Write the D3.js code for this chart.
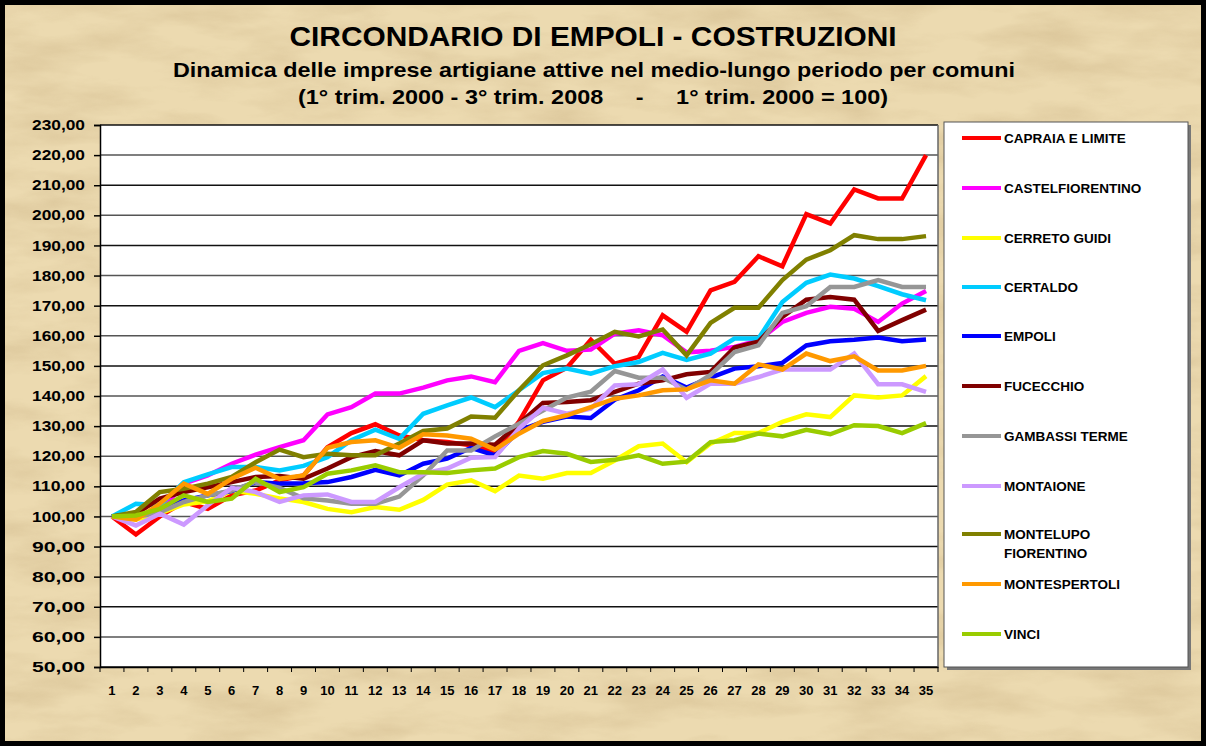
<!DOCTYPE html>
<html>
<head>
<meta charset="utf-8">
<script src="https://cdn.jsdelivr.net/npm/d3@7"></script>
<style>
  body { margin: 0; background: #fff; }
  text { font-family: Arial, "Liberation Sans", sans-serif; font-weight: bold; }
</style>
</head>
<body>
<script>
// quarters 1..35 (1° trim. 2000 - 3° trim. 2008)
var quarters = d3.range(1, 36);
var yTicks = d3.range(50, 231, 10);

var names = ["CAPRAIA E LIMITE", "CASTELFIORENTINO", "CERRETO GUIDI", "CERTALDO", "EMPOLI",
    "FUCECCHIO", "GAMBASSI TERME", "MONTAIONE", "MONTELUPO FIORENTINO", "MONTESPERTOLI", "VINCI"];

var capraia = [100, 94, 100, 104.8, 102.5, 107, 108.6, 112, 113.6, 123, 127.7, 130.6, 126.9, 125.3, 124.7, 123.6, 121.4, 131.5, 145.2, 149.4, 158.7, 150.7, 153, 166.8, 161.3, 175.1, 177.9, 186.4, 183.1, 200.4, 197.3, 208.6, 205.6, 205.6, 220];
var castelfiorentino = [100, 100, 101.4, 110.9, 113.6, 117.5, 120.5, 123, 125.3, 133.9, 136.3, 140.8, 140.8, 142.8, 145.2, 146.5, 144.6, 155, 157.6, 155, 155.4, 160.7, 161.8, 160.2, 154.5, 155, 156.3, 158.5, 164.6, 167.6, 169.6, 169, 164.6, 170.7, 174.9];
var cerreto = [100, 99, 101, 104, 105, 108.5, 107.5, 106, 104.8, 102.5, 101.4, 103.1, 102.2, 105.5, 110.6, 112, 108.4, 113.6, 112.5, 114.4, 114.4, 118.6, 123.3, 124.2, 118, 124.2, 127.7, 127.7, 131.4, 133.9, 133, 140.2, 139.5, 140.2, 146.6];
var certaldo = [100, 104.2, 103.7, 111.4, 114, 116.4, 116.4, 115.3, 116.8, 119.7, 125.3, 128.8, 125.8, 134.1, 136.9, 139.5, 136.3, 141.9, 147.6, 149.1, 147.4, 149.9, 151.3, 154.3, 152, 154.1, 159.1, 159.1, 171.2, 177.6, 180.3, 179, 176.5, 173.8, 171.8];
var empoli = [100, 100.3, 102, 105.3, 107, 108.4, 111.4, 110.9, 111, 111.4, 113.1, 115.5, 113.6, 117.5, 119.2, 122.8, 120.3, 128.6, 131.4, 133.2, 132.7, 138.8, 141.9, 146.5, 142.8, 146.1, 149.1, 149.9, 151, 156.8, 158.2, 158.7, 159.4, 158.2, 158.8];
var fucecchio = [100, 100.9, 105.9, 108.1, 109.7, 111.4, 113.1, 113.4, 112.5, 115.9, 119.7, 121.7, 120.3, 125.3, 124.2, 124.2, 123.8, 130.8, 137.7, 138, 138.6, 141.4, 144.1, 145.2, 147.2, 148, 156.1, 158, 166.3, 172, 172.9, 172, 161.6, 165.2, 168.7];
var gambassi = [100, 99.8, 101.4, 104.8, 107, 108.6, 111.5, 109.5, 106, 105.3, 104.2, 104.2, 106.6, 113.6, 121.9, 121.9, 126.6, 130.8, 135.2, 139.5, 141.4, 148.3, 146.1, 146.1, 142.1, 147, 154.6, 156.8, 167.6, 169.8, 176.2, 176.2, 178.5, 176.2, 176.2];
var montaione = [100, 97, 100.9, 97.3, 103.7, 109.5, 108.1, 104.8, 107, 107.3, 104.8, 104.8, 109.7, 114.2, 115.9, 119.5, 119.7, 129.2, 136.1, 134.1, 135.8, 143.5, 143.9, 148.8, 139.4, 144.1, 144.1, 146.3, 148.8, 148.8, 148.8, 154.1, 143.9, 143.9, 141.4];
var montelupo = [100, 101.5, 108.1, 109.2, 110.9, 113.1, 118, 122.2, 119.7, 120.8, 120.3, 120.3, 124.2, 128.4, 129.2, 133.2, 132.8, 141.9, 150.2, 153.5, 157.2, 161.3, 159.8, 162.1, 153.5, 164.3, 169.3, 169.3, 178.5, 185.3, 188.4, 193.4, 192.1, 192.1, 193.1];
var montespertoli = [100, 98.9, 104.2, 110.9, 107.5, 112.5, 116.2, 112.5, 113.6, 122.8, 124.7, 125.3, 122.8, 127.3, 126.9, 125.8, 122.2, 127.5, 131.7, 133.6, 136.3, 139.1, 140.2, 141.9, 142.2, 145.2, 144.1, 150.5, 148.8, 154.1, 151.6, 153.2, 148.5, 148.5, 150];
var vinci = [100, 100.3, 102.5, 107, 104.8, 105.9, 112.5, 108.1, 109.7, 114.2, 115.3, 117, 114.7, 114.7, 114.4, 115.3, 115.9, 119.7, 121.7, 120.8, 118.1, 118.8, 120.3, 117.5, 118.2, 124.7, 125.3, 127.5, 126.6, 128.8, 127.3, 130.3, 130, 127.7, 131];

var seriesValues = [capraia, castelfiorentino, cerreto, certaldo, empoli, fucecchio,
    gambassi, montaione, montelupo, montespertoli, vinci];
var colors = ["#ff0000", "#ff00ff", "#ffff00", "#00ccff", "#0000ff", "#800000",
    "#969696", "#cc99ff", "#808000", "#ff9900", "#99cc00"];

var W = 1206, H = 746;
var plot = {left: 100, right: 938, top: 125, bottom: 667};

var svg = d3.select("body").append("svg")
    .attr("width", W)
    .attr("height", H);

// parchment background
var defs = svg.append("defs");
var f = defs.append("filter").attr("id", "parch")
    .attr("x", 0).attr("y", 0).attr("width", "100%").attr("height", "100%");
f.append("feTurbulence")
    .attr("type", "fractalNoise")
    .attr("baseFrequency", "0.01 0.035")
    .attr("numOctaves", 5)
    .attr("seed", 7);
f.append("feColorMatrix")
    .attr("type", "matrix")
    .attr("values", "0 0 0 0 0.55  0 0 0 0 0.40  0 0 0 0 0.20  1.6 0 0 0 -0.62");

svg.append("rect")
    .attr("width", W).attr("height", H)
    .style("fill", "#ecdab0");
svg.append("rect")
    .attr("width", W).attr("height", H)
    .attr("filter", "url(#parch)")
    .style("opacity", 0.45);

// black frame
svg.append("rect")
    .attr("x", 2.5).attr("y", 2.5)
    .attr("width", W - 5).attr("height", H - 5)
    .style("fill", "none")
    .style("stroke", "#000")
    .style("stroke-width", 5);

// titles (the source picture is stretched sideways, hence textLength)
svg.append("text")
    .attr("x", 593).attr("y", 46)
    .attr("text-anchor", "middle")
    .attr("textLength", 607)
    .attr("lengthAdjust", "spacingAndGlyphs")
    .style("font-size", "28px")
    .text("CIRCONDARIO DI EMPOLI - COSTRUZIONI");
svg.append("text")
    .attr("x", 594).attr("y", 77)
    .attr("text-anchor", "middle")
    .attr("textLength", 842)
    .attr("lengthAdjust", "spacingAndGlyphs")
    .style("font-size", "21px")
    .text("Dinamica delle imprese artigiane attive nel medio-lungo periodo per comuni");
svg.append("text")
    .attr("x", 593).attr("y", 104)
    .attr("text-anchor", "middle")
    .attr("xml:space", "preserve")
    .attr("textLength", 590)
    .attr("lengthAdjust", "spacingAndGlyphs")
    .style("font-size", "21px")
    .style("white-space", "pre")
    .text("(1° trim. 2000 - 3° trim. 2008     -     1° trim. 2000 = 100)");

var x = d3.scaleBand()
    .domain(quarters)
    .range([plot.left, plot.right]);

var y = d3.scaleLinear()
    .domain([50, 230])
    .range([plot.bottom, plot.top]);

// plot area
svg.append("rect")
    .attr("x", plot.left).attr("y", plot.top)
    .attr("width", plot.right - plot.left)
    .attr("height", plot.bottom - plot.top)
    .style("fill", "#fff");

// grid lines
svg.append("g")
    .selectAll("line")
    .data(yTicks)
    .enter().append("line")
    .attr("x1", plot.left).attr("x2", plot.right)
    .attr("y1", function (d) { return y(d); })
    .attr("y2", function (d) { return y(d); })
    .style("stroke", function (d, i) { return i % 2 ? "#555" : "#111"; })
    .style("stroke-width", 1.5);

svg.append("line")
    .attr("x1", plot.right).attr("x2", plot.right)
    .attr("y1", plot.top).attr("y2", plot.bottom)
    .style("stroke", "#666")
    .style("stroke-width", 1.5);

// y axis
var yAxis = svg.append("g")
    .attr("transform", "translate(" + plot.left + ",0)")
    .call(d3.axisLeft(y).tickValues(yTicks).tickSize(6).tickPadding(9)
        .tickFormat(function (d) { return d3.format(".2f")(d).replace(".", ","); }));
yAxis.selectAll("text")
    .attr("textLength", 53)
    .attr("lengthAdjust", "spacingAndGlyphs")
    .style("font-size", "14.5px").style("fill", "#000")
    .style("font-family", "Arial, 'Liberation Sans', sans-serif");
yAxis.selectAll("line, path").style("stroke", "#000").style("stroke-width", 1.5);

// x axis
var xAxis = svg.append("g")
    .attr("transform", "translate(0," + plot.bottom + ")")
    .call(d3.axisBottom(x).tickSize(0).tickPadding(19));
xAxis.selectAll("text").style("font-size", "13px").style("fill", "#000")
    .style("font-family", "Arial, 'Liberation Sans', sans-serif");
xAxis.select("path").style("stroke", "#000").style("stroke-width", 1.5);
// tick marks at category boundaries
xAxis.selectAll(".bnd")
    .data(quarters.concat([36]))
    .enter().append("line")
    .attr("class", "bnd")
    .attr("x1", function (d) { return plot.left + (d - 1) * x.step(); })
    .attr("x2", function (d) { return plot.left + (d - 1) * x.step(); })
    .attr("y1", 0).attr("y2", 5)
    .style("stroke", "#000").style("stroke-width", 1);

// lines
var line = d3.line()
    .x(function (d, i) { return x(quarters[i]) + x.bandwidth() / 2; })
    .y(function (d) { return y(d); });

svg.append("g")
    .selectAll("path")
    .data(seriesValues)
    .enter().append("path")
    .attr("d", line)
    .style("fill", "none")
    .style("stroke", function (d, i) { return colors[i]; })
    .style("stroke-width", 4.5)
    .style("stroke-linejoin", "miter");

// legend
var lg = svg.append("g");
lg.append("rect")
    .attr("x", 947).attr("y", 125)
    .attr("width", 244).attr("height", 545)
    .style("fill", "#777");
lg.append("rect")
    .attr("x", 944).attr("y", 122)
    .attr("width", 244).attr("height", 545)
    .style("fill", "#fff")
    .style("stroke", "#555")
    .style("stroke-width", 1);

var legendY = [138, 188, 238, 287, 336, 386, 436, 486, 534, 584, 634];
var items = lg.selectAll(".item")
    .data(names)
    .enter().append("g")
    .attr("class", "item")
    .attr("transform", function (d, i) { return "translate(0," + legendY[i] + ")"; });
items.append("line")
    .attr("x1", 962).attr("x2", 1001)
    .attr("y1", 0).attr("y2", 0)
    .style("stroke", function (d, i) { return colors[i]; })
    .style("stroke-width", 4);
items.append("text")
    .attr("x", 1004).attr("y", 5)
    .style("font-size", "13.5px")
    .each(function (d) {
        var t = d3.select(this);
        if (d === "MONTELUPO FIORENTINO") {
            t.append("tspan").attr("x", 1004).attr("dy", 0).text("MONTELUPO");
            t.append("tspan").attr("x", 1004).attr("dy", 19).text("FIORENTINO");
        } else {
            t.text(d);
        }
    });
</script>
</body>
</html>
